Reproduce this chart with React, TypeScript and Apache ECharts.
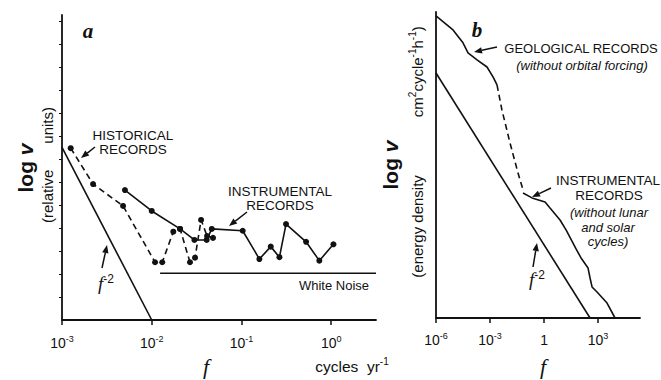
import { useEffect, useRef } from 'react';
import * as echarts from 'echarts';

// ---------- Panel a (cycles per year) ----------
const A_TICK_F = [0.001, 0.01, 0.1, 1];
const A_Y_TICKS = [1, 2, 3, 4, 5, 6, 7, 8, 9, 10, 11, 12, 13];
const F2A_F = [0.001, 0.01];
const F2A_V = [7.5, 0];
const HIST_F = [0.00125, 0.00222, 0.00479, 0.0109, 0.0131, 0.0174, 0.0207, 0.0267, 0.0304, 0.0355, 0.0414, 0.0482];
const HIST_V = [7.47, 5.91, 4.96, 2.51, 2.51, 3.84, 3.96, 2.51, 2.71, 4.35, 3.65, 3.57];
const INSTA_F = [0.00503, 0.01, 0.0207, 0.0299, 0.041, 0.0467, 0.1033, 0.1585, 0.2122, 0.265, 0.314, 0.525, 0.738, 1.06];
const INSTA_V = [5.65, 4.74, 3.96, 3.48, 3.48, 3.96, 3.88, 2.65, 3.19, 2.73, 4.17, 3.4, 2.58, 3.29];
const NOISE_F = [0.0124, 3.16];
const NOISE_V = [2.03, 2.03];

// ---------- Panel b ----------
const B_TICK_F = [1e-6, 1e-3, 1, 1000];
const F2B_F = [1e-6, 360];
const F2B_V = [10.65, 0];
const GEO_F = [1e-6, 8.8e-6, 3.16e-5, 6.0e-5, 1.9e-4, 6.8e-4, 1.47e-3, 2.45e-3];
const GEO_V = [13.13, 12.52, 11.96, 11.52, 11.22, 10.91, 10.48, 10.13];
const GEOD_F = [2.45e-3, 4.6e-3, 0.0129, 0.036, 0.068];
const GEOD_V = [10.13, 9.04, 7.61, 6.3, 5.57];
const INSTB_F = [0.068, 0.215, 1.14, 2.15, 7.74, 16.7, 60, 114, 278, 360, 464, 879, 3162, 8790];
const INSTB_V = [5.43, 5.22, 5.04, 4.78, 4.26, 3.83, 3.0, 2.61, 2.17, 1.74, 1.35, 1.13, 0.65, 0];

const INK = '#111';
const SANS = '"Liberation Sans", Arial, sans-serif';
const SERIF = '"Liberation Serif", "Times New Roman", serif';

const pairs = (f: number[], v: number[]) => f.map((x, i) => [x, v[i]]);

const supRich = {
  b: { fontSize: 14, fontFamily: SANS, color: INK, lineHeight: 16, verticalAlign: 'bottom' },
  s: { fontSize: 9, fontFamily: SANS, color: INK, lineHeight: 16, verticalAlign: 'top' },
};

const fmtA = (v: number) => `{b|10}{s|${Math.round(Math.log10(v))}}`;
const fmtB = (v: number) => {
  const e = Math.round(Math.log10(v));
  return e === 0 ? '{b|1}' : `{b|10}{s|${e}}`;
};

function arrow(x1: number, y1: number, x2: number, y2: number, len = 8, w = 3.2) {
  const dx = x2 - x1, dy = y2 - y1;
  const L = Math.hypot(dx, dy);
  const ux = dx / L, uy = dy / L;
  const bx = x2 - ux * len, by = y2 - uy * len;
  const px = -uy, py = ux;
  return [
    { type: 'line', silent: true, shape: { x1, y1, x2: bx, y2: by }, style: { stroke: INK, lineWidth: 1.5 } },
    {
      type: 'polygon', silent: true,
      shape: { points: [[x2, y2], [bx + px * w, by + py * w], [bx - px * w, by - py * w]] },
      style: { fill: INK },
    },
  ];
}

function txt(x: number, y: number, text: string, font: string, extra: any = {}, rotation = 0) {
  return {
    type: 'text', x, y, rotation, silent: true,
    style: {
      text, font, fill: INK,
      align: 'center', verticalAlign: 'middle',
      textAlign: 'center', textVerticalAlign: 'middle',
      ...extra,
    },
  };
}

const lineSeries = (name: string, f: number[], v: number[], idx: number, opts: any = {}) => ({
  name,
  type: 'line',
  xAxisIndex: idx,
  yAxisIndex: idx,
  data: pairs(f, v),
  showSymbol: !!opts.dots,
  symbol: 'circle',
  symbolSize: 6,
  itemStyle: { color: INK },
  lineStyle: { color: INK, width: 1.6, type: opts.dashed ? [6, 4] : 'solid' },
  silent: true,
  z: 3,
});

export default function App() {
  const ref = useRef<HTMLDivElement>(null);
  useEffect(() => {
    if (!ref.current) return;
    const chart = echarts.init(ref.current, undefined, { renderer: 'svg' });

    const xAxisCommon = (tickF: number[], fmt: (v: number) => string, margin: number) => ({
      type: 'log',
      logBase: 10,
      axisLine: { show: true, lineStyle: { color: INK, width: 1.8 } },
      axisTick: { show: true, customValues: tickF, length: 5, lineStyle: { color: INK, width: 1.5 } },
      axisLabel: { show: true, customValues: tickF, formatter: fmt, margin, rich: supRich },
      splitLine: { show: false },
      minorTick: { show: false },
    });

    const supF = {
      f: { font: `italic 19px ${SERIF}`, fill: INK, lineHeight: 20, verticalAlign: 'bottom' },
      s: { font: `12px ${SANS}`, fill: INK, lineHeight: 20, verticalAlign: 'top' },
    };
    const logV = {
      l: { font: `bold 21px ${SANS}`, fill: INK },
      v: { font: `bold italic 21px ${SANS}`, fill: INK },
    };

    const option: any = {
      animation: false,
      backgroundColor: '#fff',
      grid: [
        { left: 62, top: 15, width: 314, height: 305 },
        { left: 436, top: 12, width: 204, height: 306 },
      ],
      xAxis: [
        { gridIndex: 0, min: 0.001, max: 3.16, ...xAxisCommon(A_TICK_F, fmtA, 14) },
        { gridIndex: 1, min: 1e-6, max: 2.14e5, ...xAxisCommon(B_TICK_F, fmtB, 13) },
      ],
      yAxis: [
        {
          gridIndex: 0, type: 'value', min: 0, max: 13.26,
          axisLine: { show: true, lineStyle: { color: INK, width: 1.8 } },
          axisTick: { show: true, customValues: A_Y_TICKS, length: 3, lineStyle: { color: INK, width: 1 } },
          axisLabel: { show: false },
          splitLine: { show: false },
        },
        {
          gridIndex: 1, type: 'value', min: 0, max: 13.3,
          axisLine: { show: true, lineStyle: { color: INK, width: 1.8 } },
          axisTick: { show: false },
          axisLabel: { show: false },
          splitLine: { show: false },
        },
      ],
      series: [
        lineSeries('f-2 a', F2A_F, F2A_V, 0),
        lineSeries('Historical records', HIST_F, HIST_V, 0, { dots: true, dashed: true }),
        lineSeries('Instrumental records', INSTA_F, INSTA_V, 0, { dots: true }),
        lineSeries('White noise', NOISE_F, NOISE_V, 0),
        lineSeries('f-2 b', F2B_F, F2B_V, 1),
        lineSeries('Geological records', GEO_F, GEO_V, 1),
        lineSeries('Geological records (gap)', GEOD_F, GEOD_V, 1, { dashed: true }),
        lineSeries('Instrumental records b', INSTB_F, INSTB_V, 1),
      ],
      graphic: [
        // panel letters
        txt(88, 31, 'a', `italic bold 21px ${SERIF}`),
        txt(477, 30, 'b', `italic bold 21px ${SERIF}`),
        // panel a annotations
        txt(133, 135, 'HISTORICAL', `13.5px ${SANS}`),
        txt(133, 149, 'RECORDS', `13.5px ${SANS}`),
        ...arrow(95, 147, 81, 158),
        txt(280, 191, 'INSTRUMENTAL', `13.5px ${SANS}`),
        txt(280, 205, 'RECORDS', `13.5px ${SANS}`),
        ...arrow(247, 212, 229, 226),
        txt(369, 285, 'White Noise', `13px ${SANS}`, { align: 'right', textAlign: 'right' }),
        txt(106, 283, '{f|f}{s|-2}', `16px ${SANS}`, { rich: supF }),
        ...arrow(102, 268, 107, 245),
        // panel a axis titles
        txt(206, 366, 'f', `italic 22px ${SERIF}`),
        txt(352, 365, '{t|cycles  yr}{s|-1}', `15px ${SANS}`, {
          rich: {
            t: { font: `15.5px ${SANS}`, fill: INK, lineHeight: 18, verticalAlign: 'bottom' },
            s: { font: `10px ${SANS}`, fill: INK, lineHeight: 18, verticalAlign: 'top' },
          },
        }),
        txt(25, 168, '{l|log }{v|v}', `bold 21px ${SANS}`, { rich: logV }, Math.PI / 2),
        txt(47, 165, '(relative{g| }units)', `15px ${SANS}`, {
          rich: { g: { width: 26, font: `15px ${SANS}` } },
        }, Math.PI / 2),
        // panel b annotations
        ...arrow(497, 47, 474, 52),
        txt(581, 48, 'GEOLOGICAL RECORDS', `13px ${SANS}`),
        txt(582, 65, '(without orbital forcing)', `italic 13px ${SANS}`),
        ...arrow(551, 188, 532, 197),
        txt(608, 180, 'INSTRUMENTAL', `13.5px ${SANS}`),
        txt(609, 195, 'RECORDS', `13.5px ${SANS}`),
        txt(609, 212, '(without lunar', `italic 13px ${SANS}`),
        txt(608, 227, 'and solar', `italic 13px ${SANS}`),
        txt(608, 241, 'cycles)', `italic 13px ${SANS}`),
        txt(537, 279, '{f|f}{s|-2}', `16px ${SANS}`, { rich: supF }),
        ...arrow(533, 267, 537, 243),
        txt(543, 366, 'f', `italic 22px ${SERIF}`),
        txt(390, 165, '{l|log }{v|v}', `bold 21px ${SANS}`, { rich: logV }, Math.PI / 2),
        txt(416, 152, '{t|(energy density}{g| }{t|cm}{s|2}{t|cycle}{s|-1}{t|h}{s|-1}{t|)}', `15px ${SANS}`, {
          rich: {
            t: { font: `15px ${SANS}`, fill: INK, lineHeight: 18, verticalAlign: 'bottom' },
            s: { font: `10px ${SANS}`, fill: INK, lineHeight: 18, verticalAlign: 'top' },
            g: { width: 58, font: `15px ${SANS}`, lineHeight: 18 },
          },
        }, Math.PI / 2),
      ],
    };

    chart.setOption(option);
    return () => chart.dispose();
  }, []);

  return (
    <div
      ref={ref}
      style={{ position: 'fixed', left: 0, top: 0, width: 661, height: 380, background: '#fff' }}
    />
  );
}
